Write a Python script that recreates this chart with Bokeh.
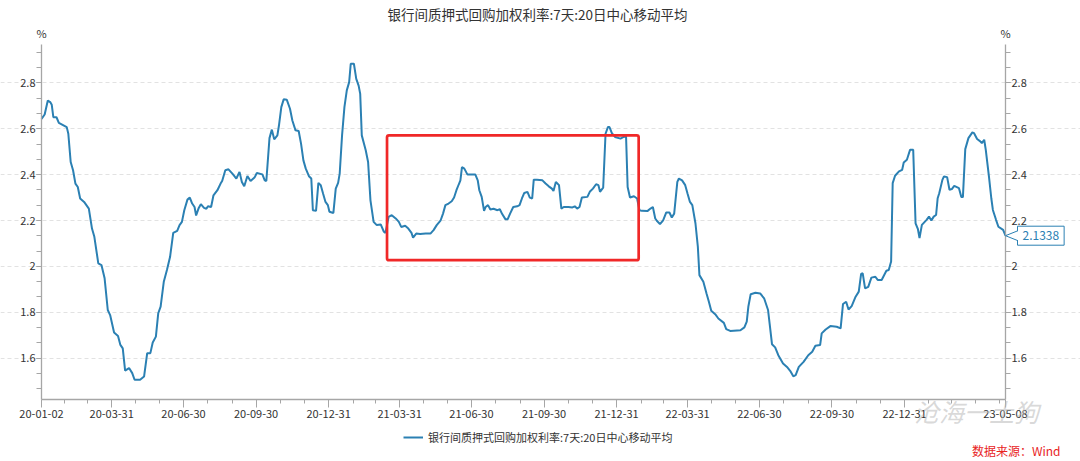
import pandas as pd
from bokeh.plotting import figure
from bokeh.models import (Range1d, LinearAxis, DatetimeAxis, FixedTicker, Label, Legend, LegendItem,
                          BoxAnnotation, PolyAnnotation, Arrow, Grid)
from bokeh.embed import file_html
from bokeh.resources import INLINE

FONT = "Noto Sans CJK SC"
title_text = "银行间质押式回购加权利率:7天:20日中心移动平均"
series_name = "银行间质押式回购加权利率:7天:20日中心移动平均"
source_text = "数据来源：Wind"
unit_text = "%"
watermark_text = "沧海一土狗"

dates = [
    "2020-01-02", "2020-01-06", "2020-01-10", "2020-01-13", "2020-01-15", "2020-01-17", "2020-01-21", "2020-01-24",
    "2020-02-03", "2020-02-05", "2020-02-08", "2020-02-11", "2020-02-14", "2020-02-17", "2020-02-20", "2020-02-25",
    "2020-03-02", "2020-03-06", "2020-03-09", "2020-03-14", "2020-03-18", "2020-03-22", "2020-03-26", "2020-03-29",
    "2020-04-03", "2020-04-08", "2020-04-11", "2020-04-14", "2020-04-17", "2020-04-22", "2020-04-26", "2020-04-29",
    "2020-05-06", "2020-05-11", "2020-05-15", "2020-05-19", "2020-05-22", "2020-05-26", "2020-05-29", "2020-06-01",
    "2020-06-05", "2020-06-09", "2020-06-13", "2020-06-17", "2020-06-22", "2020-06-25", "2020-06-28", "2020-07-01",
    "2020-07-05", "2020-07-08", "2020-07-11", "2020-07-14", "2020-07-16", "2020-07-19", "2020-07-22", "2020-07-26",
    "2020-07-29", "2020-07-31", "2020-08-04", "2020-08-07", "2020-08-12", "2020-08-16", "2020-08-18", "2020-08-22",
    "2020-08-26", "2020-08-31", "2020-09-05", "2020-09-09", "2020-09-12", "2020-09-15", "2020-09-19", "2020-09-23",
    "2020-09-28", "2020-10-01", "2020-10-08", "2020-10-11", "2020-10-13", "2020-10-17", "2020-10-20", "2020-10-23",
    "2020-10-27", "2020-10-29", "2020-11-01", "2020-11-04", "2020-11-08", "2020-11-12", "2020-11-15", "2020-11-19",
    "2020-11-23", "2020-11-26", "2020-11-29", "2020-12-02", "2020-12-06", "2020-12-09", "2020-12-11", "2020-12-15",
    "2020-12-18", "2020-12-21", "2020-12-24", "2020-12-27", "2020-12-30", "2021-01-01", "2021-01-06", "2021-01-09",
    "2021-01-12", "2021-01-14", "2021-01-17", "2021-01-20", "2021-01-23", "2021-01-26", "2021-01-28", "2021-02-01",
    "2021-02-04", "2021-02-07", "2021-02-09", "2021-02-11", "2021-02-16", "2021-02-19",
    "2021-02-22", "2021-02-26", "2021-03-02", "2021-03-07", "2021-03-11", "2021-03-13", "2021-03-17", "2021-03-21",
    "2021-03-26", "2021-03-30", "2021-04-02", "2021-04-07", "2021-04-11", "2021-04-15", "2021-04-17", "2021-04-21",
    "2021-04-26", "2021-05-03", "2021-05-09", "2021-05-13", "2021-05-17", "2021-05-22", "2021-05-25", "2021-05-28",
    "2021-06-01", "2021-06-05", "2021-06-08", "2021-06-11", "2021-06-14", "2021-06-16", "2021-06-18", "2021-06-21",
    "2021-06-25", "2021-06-29", "2021-07-05", "2021-07-08", "2021-07-10", "2021-07-13", "2021-07-16", "2021-07-18",
    "2021-07-21", "2021-07-24", "2021-07-28", "2021-08-02", "2021-08-05", "2021-08-08", "2021-08-12", "2021-08-15",
    "2021-08-18", "2021-08-22", "2021-08-27", "2021-08-30", "2021-09-02", "2021-09-05", "2021-09-09", "2021-09-12",
    "2021-09-15", "2021-09-17", "2021-09-21", "2021-09-28", "2021-10-02", "2021-10-06", "2021-10-10", "2021-10-12",
    "2021-10-15", "2021-10-19", "2021-10-22", "2021-10-25", "2021-10-31", "2021-11-05", "2021-11-08", "2021-11-11",
    "2021-11-14", "2021-11-17", "2021-11-24", "2021-11-27", "2021-12-01", "2021-12-05", "2021-12-08", "2021-12-10",
    "2021-12-14", "2021-12-17", "2021-12-20", "2021-12-22", "2021-12-25", "2021-12-29", "2022-01-05", "2022-01-09",
    "2022-01-12", "2022-01-14", "2022-01-17", "2022-01-22", "2022-01-26", "2022-01-29", "2022-02-01", "2022-02-08",
    "2022-02-12", "2022-02-15", "2022-02-18", "2022-02-20", "2022-02-24", "2022-02-28", "2022-03-04", "2022-03-08",
    "2022-03-11", "2022-03-14", "2022-03-18", "2022-03-20", "2022-03-24", "2022-03-28", "2022-03-31", "2022-04-03",
    "2022-04-06", "2022-04-10",
    "2022-04-13", "2022-04-15", "2022-04-20", "2022-04-24", "2022-04-27", "2022-04-30", "2022-05-05", "2022-05-09",
    "2022-05-16", "2022-05-19", "2022-05-24", "2022-06-06", "2022-06-11", "2022-06-14", "2022-06-16", "2022-06-19",
    "2022-06-25", "2022-07-01", "2022-07-06", "2022-07-11", "2022-07-13", "2022-07-16", "2022-07-20", "2022-07-24",
    "2022-07-30", "2022-08-04", "2022-08-08", "2022-08-12", "2022-08-15", "2022-08-19", "2022-08-25", "2022-08-31",
    "2022-09-05", "2022-09-09", "2022-09-15", "2022-09-17", "2022-09-22", "2022-09-28", "2022-10-06", "2022-10-11",
    "2022-10-14", "2022-10-18", "2022-10-21", "2022-10-25", "2022-10-30", "2022-11-03", "2022-11-06", "2022-11-08",
    "2022-11-11", "2022-11-15", "2022-11-19", "2022-11-24", "2022-11-27", "2022-12-02", "2022-12-08", "2022-12-11",
    "2022-12-14", "2022-12-16", "2022-12-19", "2022-12-24", "2022-12-28", "2022-12-30", "2023-01-03", "2023-01-07",
    "2023-01-11", "2023-01-14", "2023-01-17", "2023-01-19", "2023-01-22", "2023-01-28", "2023-01-31", "2023-02-03",
    "2023-02-06", "2023-02-09", "2023-02-11", "2023-02-13", "2023-02-17", "2023-02-19", "2023-02-23", "2023-02-26",
    "2023-03-01", "2023-03-04", "2023-03-10", "2023-03-13", "2023-03-15", "2023-03-18", "2023-03-22", "2023-03-27",
    "2023-03-29", "2023-04-02", "2023-04-06", "2023-04-08", "2023-04-11", "2023-04-13", "2023-04-17", "2023-04-20",
    "2023-04-22", "2023-04-26", "2023-04-29", "2023-05-05", "2023-05-08",
]

values = [
    2.643, 2.662, 2.723, 2.716, 2.704, 2.650, 2.650, 2.625,
    2.607, 2.578, 2.455, 2.419, 2.361, 2.346, 2.296, 2.281,
    2.252, 2.165, 2.129, 2.013, 2.006, 1.948, 1.810, 1.788,
    1.712, 1.697, 1.658, 1.643, 1.546, 1.557, 1.535, 1.506,
    1.506, 1.520, 1.622, 1.622, 1.668, 1.694, 1.796, 1.825,
    1.933, 1.984, 2.042, 2.146, 2.155, 2.180, 2.194, 2.245,
    2.291, 2.300, 2.274, 2.259, 2.222, 2.252, 2.271, 2.255,
    2.251, 2.262, 2.259, 2.310, 2.332, 2.361, 2.372, 2.419,
    2.423, 2.404, 2.383, 2.412, 2.368, 2.349, 2.394, 2.372,
    2.387, 2.407, 2.401, 2.375, 2.372, 2.559, 2.596, 2.554,
    2.571, 2.614, 2.694, 2.728, 2.726, 2.687, 2.636, 2.593,
    2.590, 2.535, 2.462, 2.426, 2.393, 2.383, 2.245, 2.242,
    2.364, 2.354, 2.317, 2.281, 2.267, 2.238, 2.233, 2.339,
    2.364, 2.404, 2.571, 2.694, 2.767, 2.803, 2.883, 2.883,
    2.817, 2.788, 2.752, 2.571, 2.506, 2.455,
    2.288, 2.194, 2.180, 2.183, 2.151, 2.146, 2.216, 2.223,
    2.209, 2.194, 2.172, 2.177, 2.165, 2.146, 2.125, 2.143,
    2.141, 2.143, 2.143, 2.158, 2.180, 2.201, 2.230, 2.267,
    2.274, 2.284, 2.300, 2.332, 2.358, 2.375, 2.433, 2.426,
    2.400, 2.401, 2.400, 2.375, 2.332, 2.303, 2.242, 2.259,
    2.267, 2.248, 2.251, 2.245, 2.249, 2.228, 2.206, 2.206,
    2.230, 2.259, 2.262, 2.267, 2.296, 2.320, 2.325, 2.300,
    2.296, 2.378, 2.378, 2.375, 2.361, 2.349, 2.339, 2.329,
    2.368, 2.354, 2.252, 2.259, 2.259, 2.257, 2.262, 2.252,
    2.259, 2.300, 2.303, 2.325, 2.339, 2.358, 2.354, 2.325,
    2.343, 2.578, 2.607, 2.607, 2.581, 2.564, 2.557, 2.564,
    2.567, 2.346, 2.300, 2.306, 2.296, 2.245, 2.242, 2.241,
    2.252, 2.259, 2.209, 2.199, 2.184, 2.201, 2.235, 2.235,
    2.213, 2.230, 2.368, 2.383, 2.375, 2.354, 2.317, 2.281,
    2.267, 2.187,
    2.086, 1.962, 1.933, 1.882, 1.846, 1.807, 1.792, 1.773,
    1.754, 1.727, 1.719, 1.722, 1.734, 1.759, 1.824, 1.879,
    1.885, 1.882, 1.861, 1.810, 1.751, 1.661, 1.647, 1.613,
    1.577, 1.562, 1.545, 1.521, 1.526, 1.562, 1.584, 1.613,
    1.628, 1.654, 1.657, 1.708, 1.725, 1.740, 1.737, 1.730,
    1.836, 1.846, 1.812, 1.827, 1.868, 1.890, 1.967, 1.970,
    1.904, 1.911, 1.951, 1.955, 1.941, 1.941, 1.981, 1.984,
    2.021, 2.363, 2.395, 2.414, 2.421, 2.453, 2.465, 2.508,
    2.508, 2.188, 2.162, 2.123, 2.181, 2.203, 2.217, 2.200,
    2.217, 2.224, 2.297, 2.319, 2.377, 2.392, 2.389, 2.334,
    2.337, 2.351, 2.341, 2.302, 2.302, 2.511, 2.559, 2.584,
    2.581, 2.555, 2.545, 2.537, 2.552, 2.508, 2.392, 2.297,
    2.246, 2.203, 2.173, 2.159, 2.1338,
]

x_tick_labels = ["20-01-02", "20-03-31", "20-06-30", "20-09-30", "20-12-31", "21-03-31", "21-06-30",
                 "21-09-30", "21-12-31", "22-03-31", "22-06-30", "22-09-30", "22-12-31", "23-05-08"]
y_ticks = [1.6, 1.8, 2.0, 2.2, 2.4, 2.6, 2.8]
y_tick_labels = ["1.6", "1.8", "2", "2.2", "2.4", "2.6", "2.8"]
y_min, y_max = 1.42, 2.967

# highlighted period (red frame)
highlight_start, highlight_end = "2021-03-15", "2022-01-28"
highlight_low, highlight_high = 2.027, 2.571

LINE_COLOR = "#2b80b3"
AXIS_COLOR = "#a6a6a6"
TEXT_COLOR = "#333333"

# canvas layout (pixels)
W, H = 1080, 461
PLOT_L, PLOT_R, PLOT_T, PLOT_B = 41, 1005, 44, 399

dt = pd.to_datetime(dates)


def to_ms(ts):
    return float(pd.Timestamp(ts).value // 10**6)


x0, x1 = to_ms(dt[0]), to_ms(dt[-1])
mpp = (x1 - x0) / (PLOT_R - PLOT_L)
vpp = (y_max - y_min) / (PLOT_B - PLOT_T)

p = figure(width=W, height=H, x_axis_type="datetime",
           x_axis_location=None, y_axis_location=None,
           x_range=Range1d(x0 - PLOT_L * mpp, x0 + (W - PLOT_L) * mpp),
           y_range=Range1d(y_min - (H - PLOT_B) * vpp, y_max + PLOT_T * vpp),
           output_backend="svg", toolbar_location=None,
           min_border=0, min_border_left=0, min_border_right=0, min_border_top=0, min_border_bottom=0)
p.outline_line_color = None
p.background_fill_color = "white"
p.border_fill_color = "white"
p.grid.visible = False

# ticks
tick_dates = pd.to_datetime(x_tick_labels, format="%y-%m-%d")
major_ms = [to_ms(t) for t in tick_dates]
minor_ms = [to_ms(t) for t in pd.date_range(dt[0], dt[-1], freq="ME")]
step = (y_ticks[1] - y_ticks[0]) / 3
minor_y = [round(y_ticks[0] + i * step, 5) for i in range(-3, 3 * len(y_ticks) + 3)]
minor_y = [v for v in minor_y if y_min <= v <= y_max]
y_overrides = {t: lab for t, lab in zip(y_ticks, y_tick_labels)}

# horizontal dashed grid lines
p.add_layout(Grid(dimension=1, ticker=FixedTicker(ticks=y_ticks), bounds=(x0, x1),
                  grid_line_color="#e2e2e2", grid_line_dash="4 3"))

xax = DatetimeAxis(ticker=FixedTicker(ticks=major_ms, minor_ticks=minor_ms),
                   major_label_overrides={m: lab for m, lab in zip(major_ms, x_tick_labels)},
                   fixed_location=y_min, bounds=(x0, x1))
xax.major_tick_out = 8
xax.minor_tick_out = 4
xax.major_label_standoff = 2
yax = LinearAxis(ticker=FixedTicker(ticks=y_ticks, minor_ticks=minor_y), major_label_overrides=y_overrides,
                 fixed_location=x0, bounds=(y_min, y_max))
rax = LinearAxis(ticker=FixedTicker(ticks=y_ticks, minor_ticks=minor_y), major_label_overrides=y_overrides,
                 fixed_location=x1, bounds=(y_min, y_max))

for ax in (xax, yax, rax):
    ax.axis_line_color = AXIS_COLOR
    ax.axis_line_width = 1.3
    ax.major_tick_line_color = AXIS_COLOR
    ax.minor_tick_line_color = AXIS_COLOR
    ax.major_tick_in = 0
    ax.minor_tick_in = 0
    ax.major_label_text_font = FONT
    ax.major_label_text_font_size = "11px"
    ax.major_label_text_color = TEXT_COLOR
for ax in (yax, rax):
    ax.major_tick_out = 5
    ax.minor_tick_out = 5
    ax.major_label_standoff = 1

p.add_layout(xax, "below")
p.add_layout(yax, "left")
p.add_layout(rax, "right")

# series
r = p.line(dt, values, line_color=LINE_COLOR, line_width=2)

# red highlight frame
p.add_layout(BoxAnnotation(left=pd.Timestamp(highlight_start), right=pd.Timestamp(highlight_end),
                           bottom=highlight_low, top=highlight_high,
                           fill_alpha=0, line_color="#f02828", line_alpha=1, line_width=2.7,
                           border_radius=2))

# legend under the x axis
legend = Legend(items=[LegendItem(label=series_name, renderers=[r])], location=(403, 16),
                orientation="horizontal", border_line_color=None, background_fill_alpha=0,
                label_text_font=FONT, label_text_font_size="11px", label_text_color=TEXT_COLOR,
                glyph_width=20, glyph_height=12, label_standoff=5, padding=2, margin=0, spacing=0)
p.add_layout(legend)

# title
p.add_layout(Label(x=x0, y=y_max, x_offset=496, y_offset=PLOT_T - 13.5, text=title_text,
                   text_align="center", text_baseline="middle", text_font=FONT,
                   text_font_size="13.5px", text_color=TEXT_COLOR))
# unit labels
for xx in (x0, x1):
    p.add_layout(Label(x=xx, y=y_max, y_offset=12, text=unit_text, text_align="center",
                       text_baseline="middle", text_font=FONT, text_font_size="11px",
                       text_color=TEXT_COLOR))

# last value callout
last_val = values[-1]
p.add_layout(Label(x=x1, y=last_val, x_offset=12, text=f"{last_val:.4f}", text_align="left",
                   text_baseline="middle", text_font=FONT, text_font_size="12px",
                   text_color=LINE_COLOR, border_line_color=LINE_COLOR, border_line_width=1,
                   background_fill_color="white", padding=5))
bx = x1 + 12.5 * mpp
p.add_layout(PolyAnnotation(xs=[bx, x1, bx], ys=[last_val + 5 * vpp, last_val, last_val - 5 * vpp],
                            xs_units="data", ys_units="data",
                            fill_color="white", fill_alpha=1, line_color=None))
for sgn in (1, -1):
    p.add_layout(Arrow(end=None, x_start=bx, y_start=last_val + sgn * 5 * vpp,
                       x_end=x1, y_end=last_val, line_color=LINE_COLOR, line_width=1))

# source
p.add_layout(Label(x=x1, y=y_min, x_offset=55, y_offset=-51, text=source_text, text_align="right",
                   text_baseline="middle", text_font=FONT, text_font_size="12px", text_color="#e8231e"))

# faint account watermark over the bottom-right corner
p.add_layout(Label(x=x1, y=y_min, x_offset=-29, y_offset=-11, text=watermark_text, text_align="center",
                   text_baseline="middle", text_font=FONT, text_font_size="25px",
                   text_font_style="italic", text_color="#b8b8b8", text_alpha=0.55))

open("out.html", "w").write(file_html(p, INLINE))
